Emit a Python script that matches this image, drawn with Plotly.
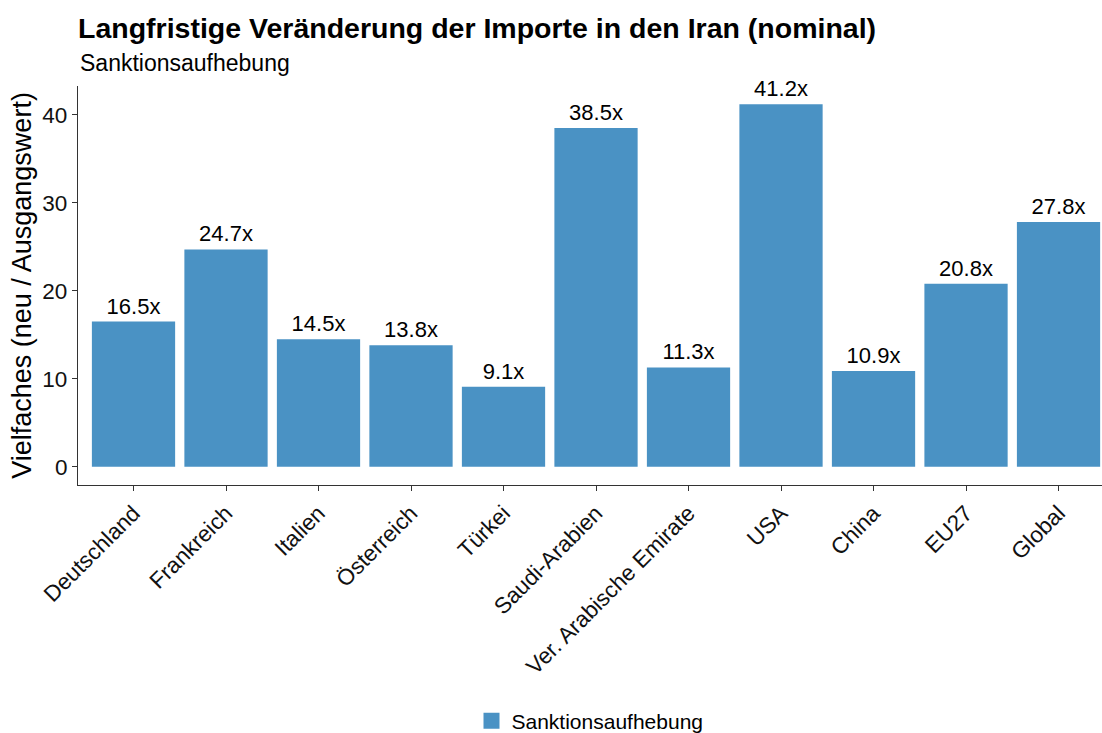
import plotly.graph_objects as go

categories = ["Deutschland", "Frankreich", "Italien", "Österreich", "Türkei",
              "Saudi-Arabien", "Ver. Arabische Emirate", "USA", "China", "EU27", "Global"]
values = [16.5, 24.7, 14.5, 13.8, 9.1, 38.5, 11.3, 41.2, 10.9, 20.8, 27.8]
labels = [f"{v:.1f}x" for v in values]
yticks = [0, 10, 20, 30, 40]

font_family = "Liberation Sans, Arial, sans-serif"
bar_color = "#4a92c4"

W, H = 1102, 733
L, R, T, B = 78, 0, 86, 248
PH = H - T - B

fig = go.Figure()
fig.add_trace(go.Bar(
    x=categories, y=values, text=labels, textposition="outside",
    textfont=dict(size=22, color="black", family=font_family),
    marker=dict(color=bar_color, line=dict(width=0)),
    width=0.9, name="Sanktionsaufhebung", showlegend=False,
    cliponaxis=False,
))
# legend key (larger square like the reference)
fig.add_trace(go.Scatter(
    x=[None], y=[None], mode="markers", name="Sanktionsaufhebung",
    marker=dict(symbol="square", size=20, color=bar_color), showlegend=True,
))

fig.update_layout(
    width=W, height=H,
    paper_bgcolor="white", plot_bgcolor="white",
    margin=dict(l=L, r=R, t=T, b=B, autoexpand=False),
    font=dict(family=font_family, color="black"),
    title=dict(
        text="<b>Langfristige Veränderung der Importe in den Iran (nominal)</b>",
        x=L/W, xanchor="left", y=1-28/H, yanchor="middle",
        font=dict(size=28.5, color="black"),
    ),
    annotations=[dict(
        text="Sanktionsaufhebung", xref="paper", yref="paper",
        x=0, xanchor="left", y=1 + 23/PH, yanchor="middle",
        showarrow=False, font=dict(size=23, color="black"),
    )],
    showlegend=True,
    legend=dict(orientation="h", x=0.5, xanchor="center", y=-(721-485)/PH,
                yanchor="middle", itemwidth=30, font=dict(size=21, color="black")),
    bargap=0.1,
)

fig.update_xaxes(
    range=[-0.6, 10.47], tickangle=-45, showline=True, linecolor="#333333",
    linewidth=1.2, ticks="outside", ticklen=5, tickcolor="#333333",
    tickfont=dict(size=22.5, color="#111111"), showgrid=False, automargin=False,
)
fig.update_yaxes(
    range=[-2.06, 43.26], tickvals=yticks, showline=True, linecolor="#333333",
    linewidth=1.2, ticks="outside", ticklen=5, tickcolor="#333333",
    tickfont=dict(size=22.5, color="#111111"), showgrid=False, zeroline=False,
    automargin=False,
    title=dict(text="Vielfaches (neu / Ausgangswert)", font=dict(size=27, color="black"),
               standoff=2),
)

fig.write_html(
    "out.html",
    config={"displayModeBar": False},
    post_script="document.body.style.margin='0';document.documentElement.style.overflow='hidden';",
)
